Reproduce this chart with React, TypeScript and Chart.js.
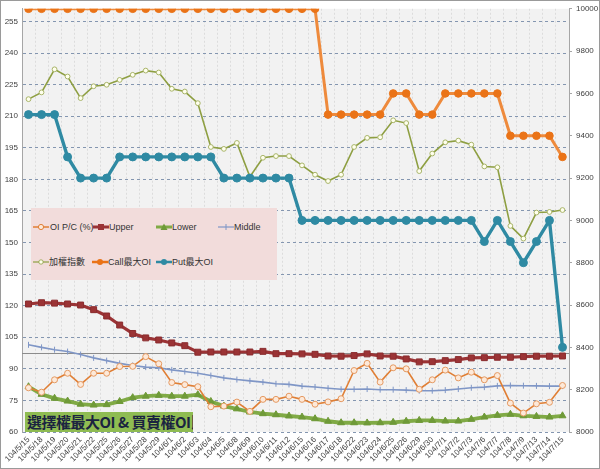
import React, { useEffect, useRef } from 'react';
import { Chart, registerables } from 'chart.js';
Chart.register(...registerables);

const labels = [
  '104/5/15', '104/5/18', '104/5/19', '104/5/20', '104/5/21', '104/5/22', '104/5/25', '104/5/26', '104/5/27', '104/5/28',
  '104/5/29', '104/6/1', '104/6/2', '104/6/3', '104/6/4', '104/6/5', '104/6/8', '104/6/9', '104/6/10', '104/6/11',
  '104/6/12', '104/6/15', '104/6/16', '104/6/17', '104/6/18', '104/6/22', '104/6/23', '104/6/24', '104/6/25', '104/6/26',
  '104/6/29', '104/6/30', '104/7/1', '104/7/2', '104/7/3', '104/7/6', '104/7/7', '104/7/8', '104/7/9', '104/7/13',
  '104/7/14', '104/7/15',
];

const oiPC = [
  81.0, 78.9, 84.8, 87.9, 82.6, 87.9, 87.9, 91.1, 91.2, 95.8,
  92.4, 83.5, 82.5, 81.5, 72.0, 72.3, 74.2, 69.8, 75.5, 75.5,
  77.0, 75.5, 73.2, 74.3, 75.8, 89.2, 92.6, 83.7, 90.5, 90.0,
  80.3, 84.8, 89.4, 85.7, 88.4, 84.8, 86.8, 73.7, 69.0, 73.4,
  74.1, 82.1,
];

const upper = [
  120.8, 121.4, 121.2, 120.8, 120.3, 118.1, 115.1, 110.8, 106.8, 104.7,
  103.7, 102.3, 101.0, 97.9, 98.0, 98.0, 98.0, 98.0, 98.3, 97.2,
  97.2, 97.1, 96.9, 96.1, 96.0, 96.3, 97.1, 96.1, 96.0, 94.7,
  93.3, 93.4, 93.9, 94.4, 95.2, 95.3, 95.5, 95.5, 95.8, 96.0,
  96.0, 96.1,
];

const lower = [
  81.5, 77.9, 76.0, 74.7, 73.2, 72.8, 73.0, 74.5, 76.3, 77.0,
  77.4, 77.0, 77.0, 77.7, 74.5, 72.3, 71.0, 69.5, 68.7, 68.2,
  67.6, 67.1, 66.3, 65.1, 64.4, 64.4, 64.3, 64.4, 64.6, 65.1,
  65.5, 65.5, 65.2, 65.2, 66.0, 67.1, 67.9, 68.4, 67.7, 67.4,
  67.1, 67.7,
];

const middle = [
  101.4, 100.2, 99.1, 98.2, 96.8, 95.2, 93.9, 92.6, 91.6, 90.8,
  90.5, 89.5, 88.7, 87.9, 86.8, 85.7, 84.9, 84.3, 83.7, 82.9,
  82.6, 81.8, 81.4, 80.8, 80.3, 80.3, 80.4, 80.1, 80.1, 79.9,
  79.6, 79.6, 79.9, 80.4, 81.0, 81.3, 81.9, 82.1, 82.0, 81.9,
  81.8, 81.8,
];

const taiex = [
  9573, 9605, 9714, 9680, 9578, 9634, 9641, 9664, 9688, 9708,
  9699, 9622, 9609, 9554, 9347, 9338, 9366, 9206, 9296, 9304,
  9304, 9260, 9216, 9186, 9216, 9347, 9390, 9393, 9473, 9460,
  9233, 9316, 9369, 9377, 9358, 9255, 9251, 8974, 8914, 9037,
  9040, 9049,
];

const callMaxOI = [
  10000, 10000, 10000, 10000, 10000, 10000, 10000, 10000, 10000, 10000,
  10000, 10000, 10000, 10000, 10000, 10000, 10000, 10000, 10000, 10000,
  10000, 10000, 10000, 9500, 9500, 9500, 9500, 9500, 9600, 9600,
  9500, 9500, 9600, 9600, 9600, 9600, 9600, 9400, 9400, 9400,
  9400, 9300,
];

const putMaxOI = [
  9500, 9500, 9500, 9300, 9200, 9200, 9200, 9300, 9300, 9300,
  9300, 9300, 9300, 9300, 9300, 9200, 9200, 9200, 9200, 9200,
  9200, 9000, 9000, 9000, 9000, 9000, 9000, 9000, 9000, 9000,
  9000, 9000, 9000, 9000, 9000, 8900, 9000, 8900, 8800, 8900,
  9000, 8400,
];

const leftTicks = { min: 60, max: 261, step: 15 };
const rightTicks = { min: 8000, max: 10000, step: 200 };
const refLevel = 97.7;

const titleText = '選擇權最大OI & 買賣權OI比';

const C = {
  oi: '#e07f35',
  upper: '#9b3335',
  lower: '#80aa45',
  middle: '#7f96c6',
  taiex: '#8e9f42',
  call: '#ea7317',
  put: '#2f8aa3',
};

const FONT = "'Liberation Sans', 'Noto Sans CJK TC', sans-serif";

function LegendMarker({ kind }: { kind: string }) {
  const w = 16, h = 10, cy = 5;
  let line = C.oi, lw = 1.5, marker: React.ReactNode = null;
  if (kind === 'oi') {
    line = C.oi; lw = 1.5;
    marker = <circle cx={8} cy={cy} r={2.6} fill="#fde9d9" stroke={C.oi} strokeWidth={1} />;
  } else if (kind === 'upper') {
    line = C.upper; lw = 3;
    marker = <rect x={5} y={2} width={6} height={6} fill={C.upper} />;
  } else if (kind === 'lower') {
    line = C.lower; lw = 3;
    marker = <polygon points="8,1.5 11.5,8 4.5,8" fill="#6f9a38" />;
  } else if (kind === 'middle') {
    line = C.middle; lw = 1.2;
    marker = <line x1={8} y1={2} x2={8} y2={8} stroke={C.middle} strokeWidth={1} />;
  } else if (kind === 'taiex') {
    line = C.taiex; lw = 1.2;
    marker = <circle cx={8} cy={cy} r={2.2} fill="#ffffee" stroke={C.taiex} strokeWidth={0.8} />;
  } else if (kind === 'call') {
    line = C.call; lw = 2.5;
    marker = <circle cx={8} cy={cy} r={3} fill={C.call} />;
  } else if (kind === 'put') {
    line = C.put; lw = 2.5;
    marker = <circle cx={8} cy={cy} r={3} fill={C.put} />;
  }
  return (
    <svg width={w} height={h} style={{ display: 'block' }}>
      <line x1={0} y1={cy} x2={w} y2={cy} stroke={line} strokeWidth={lw} />
      {marker}
    </svg>
  );
}

const legendItems = [
  { kind: 'oi', text: 'OI P/C (%)', mx: 33, tx: 50, row: 0 },
  { kind: 'upper', text: 'Upper', mx: 93, tx: 109, row: 0 },
  { kind: 'lower', text: 'Lower', mx: 156, tx: 172, row: 0 },
  { kind: 'middle', text: 'Middle', mx: 218, tx: 234, row: 0 },
  { kind: 'taiex', text: '加權指數', mx: 33, tx: 49, row: 1 },
  { kind: 'call', text: 'Call最大OI', mx: 92, tx: 108, row: 1 },
  { kind: 'put', text: 'Put最大OI', mx: 156, tx: 172, row: 1 },
];

export default function App() {
  const ref = useRef<HTMLCanvasElement>(null);

  useEffect(() => {
    document.body.style.margin = '0';
    const bgPlugin = {
      id: 'bg',
      beforeDraw(chart: any) {
        const { ctx, chartArea: a, width, height } = chart;
        ctx.save();
        ctx.fillStyle = '#ffffff';
        ctx.fillRect(0, 0, width, height);
        ctx.fillStyle = '#f2f2f2';
        ctx.fillRect(a.left, a.top, a.right - a.left, a.bottom - a.top);
        ctx.restore();
      },
      beforeDatasetsDraw(chart: any) {
        const { ctx, chartArea: a } = chart;
        const y = chart.scales.y.getPixelForValue(refLevel);
        ctx.save();
        ctx.strokeStyle = '#8c8c8c';
        ctx.lineWidth = 1;
        ctx.beginPath();
        ctx.moveTo(a.left, Math.round(y) + 0.5);
        ctx.lineTo(a.right, Math.round(y) + 0.5);
        ctx.stroke();
        ctx.restore();
      },
      afterDraw(chart: any) {
        const { ctx, width, height } = chart;
        ctx.save();
        ctx.strokeStyle = '#9a9a9a';
        ctx.lineWidth = 1;
        ctx.strokeRect(0.5, 0.5, width - 1, height - 1);
        ctx.restore();
      },
    };

    const chart = new Chart(ref.current!, {
      type: 'line',
      data: {
        labels,
        datasets: [
          {
            label: 'OI P/C (%)', data: oiPC, yAxisID: 'y', order: 3,
            borderColor: C.oi, borderWidth: 1.6, pointStyle: 'circle', pointRadius: 3,
            pointBackgroundColor: '#fde9d9', pointBorderColor: '#e59a62', pointBorderWidth: 1,
          },
          {
            label: 'Upper', data: upper, yAxisID: 'y', order: 4,
            borderColor: C.upper, borderWidth: 3.2, pointStyle: 'rect', pointRadius: 4.2,
            pointBackgroundColor: C.upper, pointBorderColor: '#8a2c2e', pointBorderWidth: 1,
          },
          {
            label: 'Lower', data: lower, yAxisID: 'y', order: 5,
            borderColor: C.lower, borderWidth: 3.8, pointStyle: 'triangle', pointRadius: 4,
            pointBackgroundColor: '#6f9a38', pointBorderColor: '#6f9a38', pointBorderWidth: 1,
          },
          {
            label: 'Middle', data: middle, yAxisID: 'y', order: 6,
            borderColor: C.middle, borderWidth: 1.6, pointStyle: 'line', pointRotation: 90, pointRadius: 3,
            pointBorderColor: C.middle, pointBorderWidth: 1, pointBackgroundColor: C.middle,
          },
          {
            label: '加權指數', data: taiex, yAxisID: 'y1', order: 2,
            borderColor: C.taiex, borderWidth: 1.6, pointStyle: 'circle', pointRadius: 2.4,
            pointBackgroundColor: '#ffffee', pointBorderColor: '#a9b56a', pointBorderWidth: 1,
          },
          {
            label: 'Call最大OI', data: callMaxOI, yAxisID: 'y1', order: 1,
            borderColor: '#ee8a3c', borderWidth: 3, pointStyle: 'circle', pointRadius: 3.8,
            pointBackgroundColor: C.call, pointBorderColor: C.call, pointBorderWidth: 1,
          },
          {
            label: 'Put最大OI', data: putMaxOI, yAxisID: 'y1', order: 0,
            borderColor: C.put, borderWidth: 3.4, pointStyle: 'circle', pointRadius: 4,
            pointBackgroundColor: C.put, pointBorderColor: C.put, pointBorderWidth: 1,
          },
        ],
      },
      options: {
        responsive: false,
        animation: false,
        devicePixelRatio: 1,
        layout: { padding: { top: 7, left: 0, right: 0, bottom: 0 } },
        plugins: { legend: { display: false }, tooltip: { enabled: false }, title: { display: false } },
        elements: { line: { tension: 0 } },
        scales: {
          x: {
            type: 'category',
            offset: true,
            grid: { display: true, color: '#dcdcdc', offset: true, drawTicks: false, lineWidth: 1 },
            border: { display: false, dash: [2, 2] },
            ticks: {
              autoSkip: false, minRotation: 45, maxRotation: 45, padding: 3,
              font: { family: FONT, size: 8 }, color: '#404040',
            },
            afterFit(s: any) { s.height = 37; s.paddingLeft = 0; s.paddingRight = 0; },
          },
          y: {
            position: 'left',
            min: leftTicks.min, max: leftTicks.max,
            ticks: {
              stepSize: leftTicks.step, includeBounds: false, padding: 4,
              font: { family: FONT, size: 8 }, color: '#404040',
              callback: (v: any) => String(v),
            },
            grid: { color: '#8496b0', drawTicks: false, lineWidth: 1 },
            border: { display: true, color: '#a6a6a6', dash: [3, 3] },
            afterFit(s: any) { s.width = 22; },
          },
          y1: {
            position: 'right',
            min: rightTicks.min, max: rightTicks.max,
            ticks: {
              stepSize: rightTicks.step, padding: 4,
              font: { family: FONT, size: 8 }, color: '#404040',
              callback: (v: any) => String(v),
            },
            grid: { drawOnChartArea: false, drawTicks: true, tickLength: 3, color: '#a6a6a6' },
            border: { display: true, color: '#a6a6a6' },
            afterFit(s: any) { s.width = 31; },
          },
        },
      },
      plugins: [bgPlugin],
    } as any);
    return () => chart.destroy();
  }, []);

  return (
    <div style={{ position: 'relative', width: 600, height: 469, fontFamily: FONT }}>
      <canvas ref={ref} width={600} height={469} style={{ display: 'block', width: 600, height: 469 }} />
      <div style={{ position: 'absolute', left: 31, top: 208, width: 246, height: 72, background: '#f2dcdb' }} />
      {legendItems.map((it) => {
        const cy = it.row === 0 ? 227 : 262;
        return (
          <React.Fragment key={it.kind}>
            <div style={{ position: 'absolute', left: it.mx, top: cy - 5 }}>
              <LegendMarker kind={it.kind} />
            </div>
            <div style={{ position: 'absolute', left: it.tx, top: cy - 7, fontSize: 9, lineHeight: '14px', color: '#333', whiteSpace: 'nowrap' }}>
              {it.text}
            </div>
          </React.Fragment>
        );
      })}
      <div style={{
        position: 'absolute', left: 25, top: 412, width: 168, height: 20, background: '#8fbc52',
        fontFamily: "'Noto Sans CJK TC', sans-serif", fontWeight: 700, fontSize: 15, lineHeight: '20px',
        color: '#1b2440', whiteSpace: 'nowrap', overflow: 'hidden', paddingLeft: 2, boxSizing: 'border-box',
        letterSpacing: -0.5,
      }}>
        {titleText}
      </div>
    </div>
  );
}
